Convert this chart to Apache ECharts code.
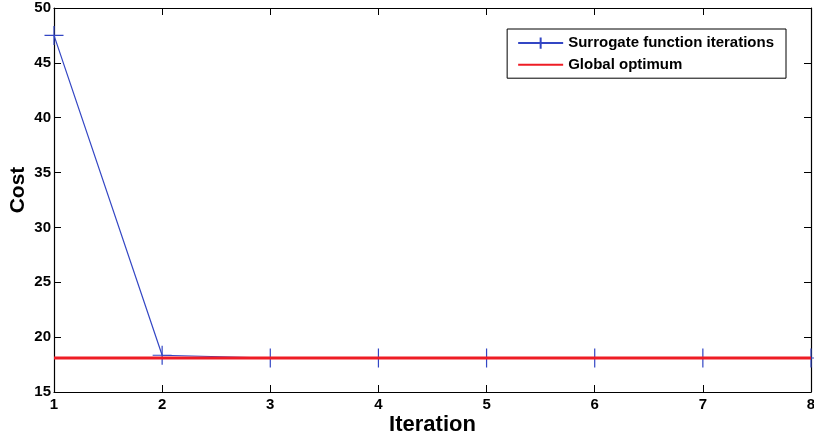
<!DOCTYPE html>
<html><head><meta charset="utf-8">
<script src="https://cdn.jsdelivr.net/npm/echarts@6/dist/echarts.min.js"></script>
<style>html,body{margin:0;padding:0;background:#fff}#c{width:814px;height:439px}</style>
</head><body><div id="c"></div>
<script>
const iterations = [1, 2, 3, 4, 5, 6, 7, 8];
const surrogateCost = [47.5, 18.35, 18.1, 18.1, 18.1, 18.1, 18.1, 18.1];
const optimumX = [1, 8];
const optimumCost = [18.1, 18.1];
const yTicks = [15, 20, 25, 30, 35, 40, 45, 50];

const font = 'Liberation Sans, Arial, Helvetica, sans-serif';
const plus = 'path://M0,-10L0,10M-10,0L10,0';
const blue = '#3346c4';
const red = '#ee1c25';

const chart = echarts.init(document.getElementById('c'));
const tickStyle = {show: true, inside: true, length: 7, lineStyle: {color: '#000', width: 1}};
chart.setOption({
  animation: false,
  backgroundColor: '#fff',
  grid: {left: 54, right: 3, top: 8, bottom: 47, containLabel: false, outerBoundsMode: 'none'},
  legend: {
    orient: 'vertical', right: 28, top: 29,
    backgroundColor: '#fff', borderColor: '#000', borderWidth: 1,
    padding: [6, 12, 6, 10], itemGap: 6, itemWidth: 45, itemHeight: 14,
    textStyle: {fontFamily: font, fontWeight: 'bold', fontSize: 15, color: '#000'},
    data: [
      {name: 'Surrogate function iterations'},
      {name: 'Global optimum', itemStyle: {opacity: 0}}
    ]
  },
  xAxis: [{
    type: 'value', min: 1, max: 8, interval: 1,
    name: 'Iteration', nameLocation: 'middle', nameGap: 22, nameMoveOverlap: false,
    nameTextStyle: {fontFamily: font, fontWeight: 'bold', fontSize: 22, color: '#000'},
    axisLine: {lineStyle: {color: '#000', width: 1.2}},
    axisTick: tickStyle,
    axisLabel: {fontFamily: font, fontWeight: 'bold', fontSize: 15, color: '#000', margin: 5,
      formatter: v => iterations.includes(v) ? String(v) : ''},
    splitLine: {show: false}
  }, {
    type: 'value', position: 'top', min: 1, max: 8, interval: 1,
    axisLine: {lineStyle: {color: '#000', width: 1.2}},
    axisTick: tickStyle, axisLabel: {show: false}, splitLine: {show: false}
  }],
  yAxis: [{
    type: 'value', min: 15, max: 50, interval: 5,
    name: 'Cost', nameLocation: 'middle', nameGap: 25, nameRotate: 90, nameMoveOverlap: false,
    nameTextStyle: {fontFamily: font, fontWeight: 'bold', fontSize: 21, color: '#000', padding: [0, 0, 0, 20]},
    axisLine: {show: true, lineStyle: {color: '#000', width: 1.2}},
    axisTick: tickStyle,
    axisLabel: {fontFamily: font, fontWeight: 'bold', fontSize: 15, color: '#000', margin: 3,
      formatter: v => yTicks.includes(v) ? String(v) : ''},
    splitLine: {show: false}
  }, {
    type: 'value', position: 'right', min: 15, max: 50, interval: 5,
    axisLine: {show: true, lineStyle: {color: '#000', width: 1.2}},
    axisTick: tickStyle, axisLabel: {show: false}, splitLine: {show: false}
  }],
  series: [{
    name: 'Surrogate function iterations', type: 'line',
    data: iterations.map((x, i) => [x, surrogateCost[i]]),
    symbol: plus, symbolSize: 19, clip: false,
    lineStyle: {color: blue, width: 1.2},
    itemStyle: {color: 'none', borderColor: blue, borderWidth: 1.2},
    z: 2
  }, {
    name: 'Global optimum', type: 'line',
    data: optimumX.map((x, i) => [x, optimumCost[i]]),
    showSymbol: false, symbol: 'none',
    lineStyle: {color: red, width: 2.8},
    itemStyle: {color: red},
    z: 3
  }]
});
</script></body></html>
